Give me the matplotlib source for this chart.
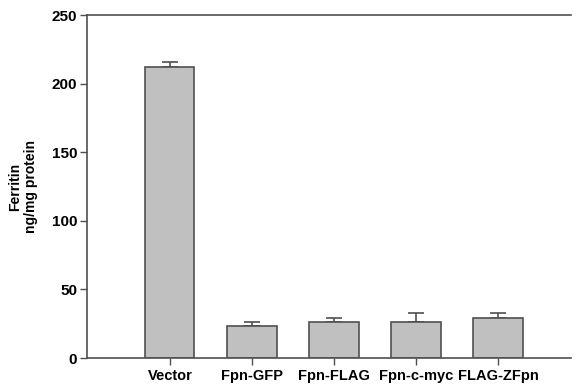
import numpy as np
import matplotlib.pyplot as plt

# ferritin levels per construct
groups = ['Vector', 'Fpn-GFP', 'Fpn-FLAG', 'Fpn-c-myc', 'FLAG-ZFpn']
ferritin = [212, 23, 26, 26, 29.5]
err_up = [4, 3, 3, 6.5, 3]

plt.rcParams['font.family'] = ['Liberation Sans', 'DejaVu Sans']
plt.rcParams['font.weight'] = 'bold'

fig = plt.figure(figsize=(5.78, 3.88), dpi=100)
ax = fig.add_axes([0.1505, 0.0773, 0.8375, 0.884])

x = np.arange(len(groups))
ax.bar(x, ferritin, width=0.6, color='#c0c0c0', edgecolor='#505050', linewidth=1.2, zorder=2)
ax.errorbar(x, ferritin, yerr=[np.zeros(len(x)), err_up], fmt='none',
            ecolor='#505050', elinewidth=1.2, capsize=6, capthick=1.2, zorder=1)

ax.set_xlim(-1.01, 4.89)
ax.set_ylim(0, 250)
ax.set_yticks([0, 50, 100, 150, 200, 250])
ax.set_xticks(x)
ax.set_xticklabels(groups, fontsize=10.5, fontweight='bold')
ax.tick_params(axis='y', labelsize=11, direction='out', length=5, width=1, color='#505050', pad=2)
ax.tick_params(axis='x', direction='out', length=5, width=1, color='#505050', pad=3)
for lab in ax.get_yticklabels():
    lab.set_fontweight('bold')

ax.spines['right'].set_visible(False)
for s in ['left', 'bottom', 'top']:
    ax.spines[s].set_color('#505050')
    ax.spines[s].set_linewidth(1.2)

ax.set_ylabel('Ferritin\nng/mg protein', fontsize=10, fontweight='bold', labelpad=10)

fig.savefig('out.png', dpi=100)
